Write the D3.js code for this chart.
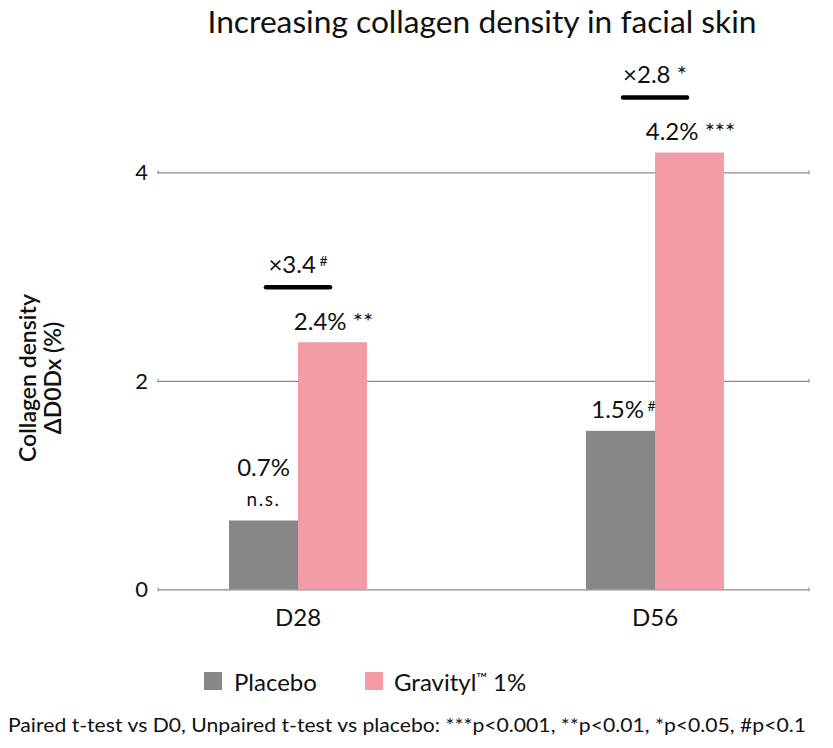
<!DOCTYPE html>
<html><head><meta charset="utf-8">
<script src="https://cdn.jsdelivr.net/npm/d3@7"></script>
<style>body{margin:0;background:#fff}svg{display:block}text{font-family:Lato,"Open Sans",sans-serif;fill:#111}</style>
</head><body>
<svg id="c" width="833" height="748"></svg>
<script>
const categories = ["D28", "D56"];
const seriesNames = ["Placebo", "Gravityl\u2122 1%"];
const placebo = [0.66, 1.52];
const gravityl = [2.37, 4.19];
const valueLabels = [["0.7%", "2.4% **"], ["1.5% #", "4.2% ***"]];
const subLabels = [["n.s.", ""], ["", ""]];
const foldLabels = ["\u00d73.4 #", "\u00d72.8 *"];
const yTicks = [0, 2, 4];
const colors = ["#878787", "#f29ca5"];

const svg = d3.select("#c");
const y = d3.scaleLinear().domain([0, 4]).range([589.3, 172.3]);
const x = d3.scaleBand().domain(categories).range([119.5, 833.5]).padding(0);
const xs = d3.scaleBand().domain([0, 1]).range([-69, 69]);
const gridL = 158, gridR = 809;

const yAxis = d3.axisRight(y).tickValues(yTicks).tickSize(gridR - gridL).tickFormat("");
const g = svg.append("g").attr("transform", `translate(${gridL},0)`).call(yAxis);
g.select(".domain").remove();
g.selectAll(".tick line").attr("stroke", "#8a8a8a").attr("stroke-width", 1.3);
yTicks.forEach(t => {
  [gridL, gridR].forEach(xx => svg.append("line").attr("x1", xx).attr("x2", xx)
    .attr("y1", y(t) - 2).attr("y2", y(t) + 2).attr("stroke", "#8a8a8a").attr("stroke-width", 1));
});
svg.selectAll(".yl").data(yTicks).join("text").attr("x", 148).attr("y", d => y(d) + 8)
  .attr("text-anchor", "end").attr("font-size", 22).text(d => d);

const data = categories.map((c, i) => ({c, vals: [placebo[i], gravityl[i]]}));
data.forEach((d, i) => {
  d.vals.forEach((v, j) => {
    svg.append("rect").attr("x", x(d.c) + x.bandwidth() / 2 + xs(j)).attr("width", xs.bandwidth())
      .attr("y", y(v)).attr("height", y(0) - y(v)).attr("fill", colors[j]);
  });
});

svg.selectAll(".xl").data(categories).join("text").attr("x", d => x(d) + x.bandwidth() / 2)
  .attr("y", 626).attr("text-anchor", "middle").attr("font-size", 24).text(d => d);

data.forEach((d, i) => {
  const cx = x(d.c) + x.bandwidth() / 2;
  const pc = cx + xs(0) + xs.bandwidth() / 2;
  const gc = cx + xs(1) + xs.bandwidth() / 2;
  const pl = valueLabels[i][0].split(" ");
  const gl = valueLabels[i][1].split(" ");
  if (subLabels[i][0]) {
    svg.append("text").attr("x", pc).attr("y", y(placebo[i]) - 44).attr("text-anchor", "middle")
      .attr("font-size", 24).text(pl[0]);
    svg.append("text").attr("x", pc).attr("y", y(placebo[i]) - 14).attr("text-anchor", "middle")
      .attr("font-size", 19).attr("letter-spacing", 1.5).text(subLabels[i][0]);
  } else {
    const t = svg.append("text").attr("x", pc + 3).attr("y", y(placebo[i]) - 13).attr("text-anchor", "middle");
    t.append("tspan").text(pl[0]).attr("font-size", 24);
    t.append("tspan").text(" " + pl[1]).attr("font-size", 14).attr("dy", -7);
  }
  const t2 = svg.append("text").attr("x", gc + 1).attr("y", y(gravityl[i]) - 12).attr("text-anchor", "middle");
  t2.append("tspan").text(gl[0]).attr("font-size", 24);
  t2.append("tspan").text(" " + gl[1]).attr("font-size", 24);
  const top = y(gravityl[i]);
  const fx = cx;
  svg.append("line").attr("x1", fx - 32).attr("x2", fx + 32).attr("y1", top - 55).attr("y2", top - 55)
    .attr("stroke", "#000").attr("stroke-width", 4.5).attr("stroke-linecap", "round");
  const fl = foldLabels[i].split(" ");
  const ft = svg.append("text").attr("x", fx).attr("y", top - 69).attr("text-anchor", "middle");
  ft.append("tspan").text(fl[0]).attr("font-size", 24);
  ft.append("tspan").text(" " + fl[1]).attr("font-size", fl[1] === "#" ? 14 : 24).attr("dy", fl[1] === "#" ? -7 : 0);
});

svg.append("text").attr("x", 482).attr("y", 33).attr("text-anchor", "middle").attr("font-size", 30)
  .attr("textLength", 549).attr("lengthAdjust", "spacingAndGlyphs")
  .text("Increasing collagen density in facial skin");

const yt = svg.append("text").attr("transform", "translate(0,378) rotate(-90)").attr("text-anchor", "middle")
  .attr("font-size", 23).attr("font-weight", 600);
yt.append("tspan").attr("x", 0).attr("y", 36).text("Collagen density");
yt.append("tspan").attr("x", 0).attr("y", 61).text("\u0394D0Dx (%)");

const legX = [204, 365];
seriesNames.forEach((n, i) => {
  svg.append("rect").attr("x", legX[i]).attr("y", 672).attr("width", 18).attr("height", 18).attr("fill", colors[i]);
});
svg.append("text").attr("x", 234).attr("y", 691).attr("font-size", 24).text("Placebo");
const lg = svg.append("text").attr("x", 394).attr("y", 691).attr("font-size", 24);
lg.append("tspan").text("Gravityl");
lg.append("tspan").text("\u2122").attr("font-size", 14).attr("dy", -8);
lg.append("tspan").text(" 1%").attr("dy", 8);

svg.append("text").attr("x", 8).attr("y", 732).attr("font-size", 19)
  .attr("textLength", 798).attr("lengthAdjust", "spacingAndGlyphs")
  .text("Paired t-test vs D0, Unpaired t-test vs placebo: ***p<0.001, **p<0.01, *p<0.05, #p<0.1");
</script>
</body></html>
